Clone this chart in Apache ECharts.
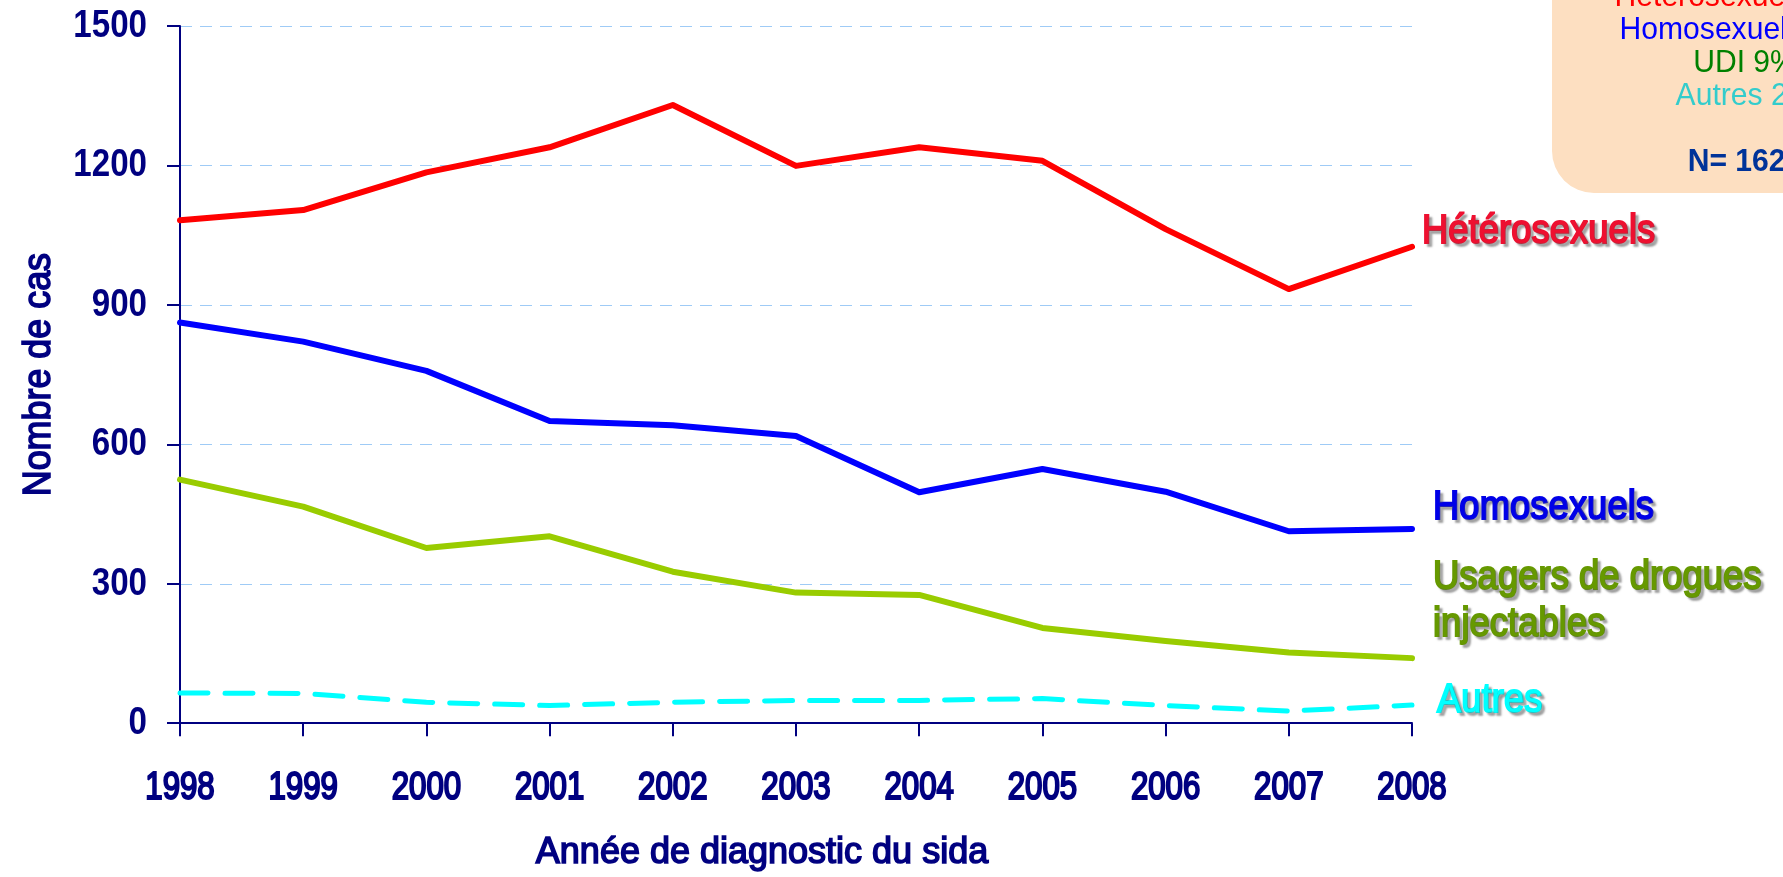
<!DOCTYPE html>
<html>
<head>
<meta charset="utf-8">
<script src="https://cdn.jsdelivr.net/npm/echarts@6/dist/echarts.min.js"></script>
<style>
  html, body { margin: 0; padding: 0; background: #ffffff; }
  #chart { width: 1783px; height: 877px; }
</style>
</head>
<body>
<div id="chart"></div>
<script>
// Cas de sida par mode de contamination et année de diagnostic
const years = ['1998', '1999', '2000', '2001', '2002', '2003', '2004', '2005', '2006', '2007', '2008'];
const heterosexuels = [1082, 1104, 1185, 1239, 1330, 1199, 1239, 1210, 1063, 934, 1025];
const homosexuels   = [862, 821, 758, 650, 641, 618, 497, 547, 498, 413, 418];
const usagersDrogues = [524, 466, 377, 402, 326, 281, 276, 205, 177, 152, 140];
const autres        = [65, 64, 45, 38, 45, 49, 49, 53, 38, 26, 39];
const yTicks = [0, 300, 600, 900, 1200, 1500];

const NAVY = '#000080';
const SANS = "'Liberation Sans', Arial, sans-serif";

// Répartition de la dernière année
const last = years.length - 1;
const total = heterosexuels[last] + homosexuels[last] + usagersDrogues[last] + autres[last];
const pct = v => Math.round(100 * v / total) + '%';

// léger contour de la même couleur pour épaissir le trait du texte
const heavy = (color, w) => ({ textBorderColor: color, textBorderWidth: w || 1.3 });

const seriesDefs = [
  { name: 'Hétérosexuels', data: heterosexuels, color: '#ff0000', width: 6, type: 'solid',
    label: 'Hétérosexuels', labelColor: '#ee1030', dx: 10, dy: -15 },
  { name: 'Homosexuels', data: homosexuels, color: '#0000ff', width: 6, type: 'solid',
    label: 'Homosexuels', labelColor: '#0000e8', dx: 21, dy: -21 },
  { name: 'Usagers de drogues injectables', data: usagersDrogues, color: '#99cc00', width: 6, type: 'solid',
    label: 'Usagers de drogues\ninjectables', labelColor: '#669900', dx: 21, dy: -57 },
  { name: 'Autres', data: autres, color: '#00ffff', width: 5, type: [28, 17],
    label: 'Autres', labelColor: '#00ffff', dx: 25, dy: -4 }
];

const chart = echarts.init(document.getElementById('chart'), null, { renderer: 'canvas' });
chart.setOption({
  backgroundColor: '#ffffff',
  animation: false,
  grid: { left: 180, right: 371, top: 26, bottom: 150, containLabel: false },
  xAxis: {
    type: 'category',
    data: years,
    boundaryGap: false,
    axisLine: { lineStyle: { color: NAVY, width: 2 } },
    axisTick: { show: true, interval: 0, length: 13, lineStyle: { color: NAVY, width: 2 } },
    axisLabel: Object.assign({
      interval: 0, color: NAVY, fontFamily: SANS, fontSize: 39, margin: 46
    }, heavy(NAVY, 2.2)),
    name: 'Année de diagnostic du sida',
    nameLocation: 'middle',
    nameGap: 112,
    nameTextStyle: Object.assign({ color: NAVY, fontFamily: SANS, fontSize: 36, padding: [0, 68, 0, 0] }, heavy(NAVY, 1.6)),
    splitLine: { show: false }
  },
  yAxis: {
    type: 'value',
    min: yTicks[0],
    max: yTicks[yTicks.length - 1],
    interval: yTicks[1] - yTicks[0],
    axisLine: { show: true, lineStyle: { color: NAVY, width: 2 } },
    axisTick: { show: true, length: 13, lineStyle: { color: NAVY, width: 2 } },
    axisLabel: {
      color: NAVY, fontFamily: SANS, fontWeight: 'bold',
      fontSize: 39, margin: 33,
      formatter: v => String(v)
    },
    splitLine: { show: true, lineStyle: { color: '#9fcbf6', width: 1, type: [12, 8] } },
    name: 'Nombre de cas',
    nameLocation: 'middle',
    nameGap: 121,
    nameMoveOverlap: false,
    nameRotate: 90,
    nameTextStyle: Object.assign({ color: NAVY, fontFamily: SANS, fontSize: 39 }, heavy(NAVY, 1.6))
  },
  series: seriesDefs.map(d => ({
    name: d.name,
    type: 'line',
    data: d.data,
    symbol: 'none',
    animation: false,
    lineStyle: { color: d.color, width: d.width, type: d.type, cap: 'round', join: 'round' },
    z: 3
  }))
});

// Étiquettes en bout de courbe, placées au dernier point de chaque série
const endLabels = seriesDefs.map((d, i) => {
  const p = chart.convertToPixel({ seriesIndex: i }, [last, d.data[last]]);
  return {
    type: 'text',
    id: 'end-' + i,
    x: p[0] + d.dx,
    y: p[1] + d.dy,
    scaleX: 0.89,
    z: 10,
    style: {
      text: d.label,
      fill: d.labelColor,
      stroke: d.labelColor,
      lineWidth: 2,
      fontSize: 41,
      fontFamily: SANS,
      lineHeight: 47,
      align: 'left',
      verticalAlign: 'middle',
      textShadowColor: 'rgba(90,90,90,0.45)',
      textShadowOffsetX: 3,
      textShadowOffsetY: 3,
      textShadowBlur: 2
    }
  };
});

chart.setOption({
  graphic: [
    {
      type: 'rect',
      id: 'box',
      shape: { x: 1552, y: -80, width: 320, height: 273, r: 42 },
      style: { fill: '#fddfc1' },
      z: 1
    },
    {
      type: 'text',
      id: 'box-text',
      x: 1745,
      y: -19,
      scaleX: 0.94,
      z: 2,
      style: {
        text: [
          '{h|Hétérosexuels ' + pct(heterosexuels[last]) + '}',
          '{o|Homosexuels ' + pct(homosexuels[last]) + '}',
          '{u|UDI ' + pct(usagersDrogues[last]) + '}',
          '{a|Autres ' + pct(autres[last]) + '}',
          '{a| }',
          '{n|N= ' + total + '}'
        ].join('\n'),
        align: 'center',
        verticalAlign: 'top',
        font: "32px 'Liberation Sans', Arial, sans-serif",
        lineHeight: 33,
        rich: {
          h: { fill: '#ff0000', fontSize: 32, lineHeight: 33, fontFamily: SANS },
          o: { fill: '#0000ff', fontSize: 32, lineHeight: 33, fontFamily: SANS },
          u: { fill: '#008000', fontSize: 32, lineHeight: 33, fontFamily: SANS },
          a: { fill: '#33cccc', fontSize: 32, lineHeight: 33, fontFamily: SANS },
          n: { fill: '#003399', fontSize: 32, lineHeight: 33, fontWeight: 'bold', fontFamily: SANS }
        }
      }
    }
  ].concat(endLabels)
});

// Police étroite : resserrement horizontal des étiquettes d'axe autour de leur point d'ancrage
const narrow = {};
years.forEach(y => { narrow[y] = 0.8; });
yTicks.forEach(v => { narrow[String(v)] = 0.85; });
narrow['Nombre de cas'] = 0.92;

function condense() {
  const zr = chart.getZr();
  const visit = el => {
    if (el.type === 'text' && el.style && Object.prototype.hasOwnProperty.call(narrow, el.style.text)) {
      el.scaleX = narrow[el.style.text];
      el.markRedraw();
    }
    if (el.isGroup) el.eachChild(visit);
  };
  zr.storage.getRoots().forEach(visit);
  zr.refresh();
}
condense();
chart.on('finished', condense);
</script>
</body>
</html>
